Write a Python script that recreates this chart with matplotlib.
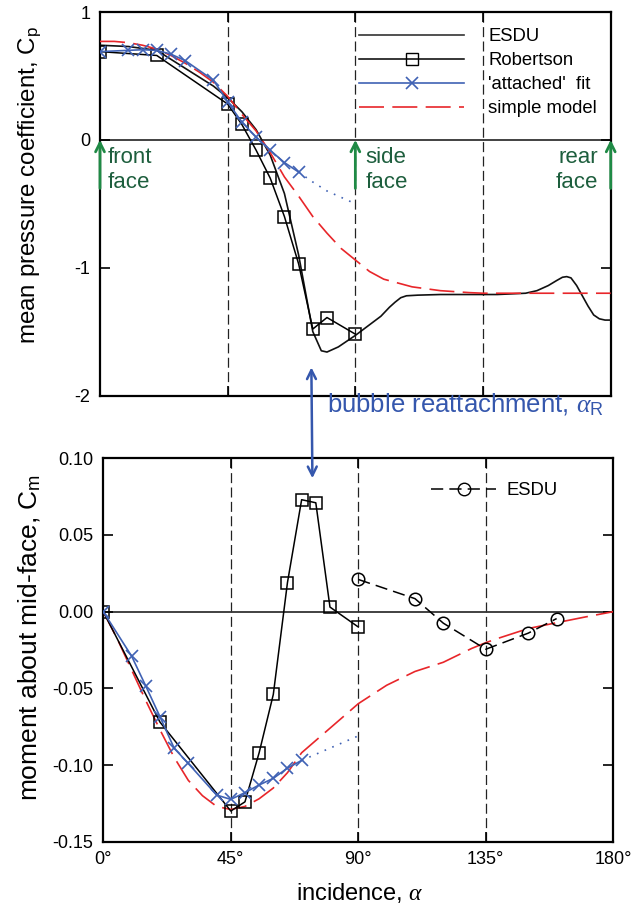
import matplotlib
matplotlib.use("Agg")
import matplotlib.pyplot as plt
from matplotlib.lines import Line2D

plt.rcParams['font.family'] = ['Liberation Sans', 'DejaVu Sans']
plt.rcParams['mathtext.fontset'] = 'custom'
plt.rcParams['mathtext.rm'] = 'Liberation Sans'
plt.rcParams['mathtext.it'] = 'Liberation Serif:italic'

# ---------------- data ----------------
alpha_rob = [0, 20, 45, 50, 55, 60, 65, 70, 75, 80, 90]
cp_rob = [0.69, 0.66, 0.28, 0.12, -0.08, -0.30, -0.60, -0.97, -1.48, -1.39, -1.52]
cm_rob = [0.0, -0.072, -0.130, -0.124, -0.092, -0.054, 0.019, 0.073, 0.071, 0.003, -0.010]

alpha_fit = [0, 10, 15, 20, 25, 30, 40, 45, 50, 55, 60, 65, 70]
cp_fit = [0.69, 0.70, 0.705, 0.70, 0.67, 0.62, 0.466, 0.296, 0.139, 0.022, -0.082, -0.178, -0.252]
cm_fit = [0.0, -0.029, -0.0485, -0.0685, -0.089, -0.099, -0.1196, -0.1224, -0.118, -0.113, -0.1087, -0.102, -0.097]

alpha_ext = [70, 75, 80, 85, 90]
cp_ext = [-0.252, -0.33, -0.40, -0.45, -0.50]
cm_ext = [-0.097, -0.093, -0.089, -0.085, -0.081]

alpha_esdu_cp = [0, 10, 20, 30, 40, 45, 50, 55, 60, 65, 70, 72, 75, 78, 80, 84, 90, 96,
                 99, 102, 104, 106, 108, 112, 120, 140, 150, 154, 158, 161, 163, 164.5,
                 166, 168, 170, 172, 174, 176, 178, 180]
cp_esdu = [0.74, 0.73, 0.70, 0.56, 0.42, 0.33, 0.22, 0.08, -0.12, -0.42, -0.90, -1.14,
           -1.50, -1.65, -1.66, -1.62, -1.53, -1.43, -1.38, -1.31, -1.27, -1.235, -1.22,
           -1.215, -1.21, -1.21, -1.20, -1.18, -1.14, -1.10, -1.075, -1.07, -1.08, -1.14,
           -1.22, -1.30, -1.37, -1.40, -1.41, -1.41]

alpha_esdu_cm = [90, 110, 120, 135, 150, 160]
cm_esdu = [0.021, 0.0085, -0.0075, -0.0245, -0.014, -0.0045]

alpha_model = [0, 5, 10, 15, 20, 25, 30, 35, 40, 45, 50, 55, 60, 65, 70, 75, 80, 85, 90,
               95, 100, 105, 110, 120, 130, 135, 140, 150, 160, 170, 180]
cp_model = [0.77, 0.77, 0.76, 0.74, 0.71, 0.66, 0.60, 0.53, 0.45, 0.34, 0.20, 0.07, -0.10,
            -0.29, -0.44, -0.60, -0.73, -0.85, -0.94, -1.03, -1.09, -1.12, -1.15, -1.18,
            -1.195, -1.20, -1.20, -1.20, -1.20, -1.20, -1.20]
cm_model = [0.0, -0.018, -0.038, -0.058, -0.077, -0.095, -0.110, -0.120, -0.127, -0.129,
            -0.127, -0.122, -0.115, -0.105, -0.092, -0.084, -0.076, -0.068, -0.060, -0.054,
            -0.048, -0.0435, -0.039, -0.033, -0.024, -0.0202, -0.017, -0.011, -0.0072,
            -0.0035, 0.0]

xtick_vals = [0, 45, 90, 135, 180]
xtick_labels = ['0°', '45°', '90°', '135°', '180°']
cp_ticks = [1, 0, -1, -2]
cm_ticks = [0.10, 0.05, 0.00, -0.05, -0.10, -0.15]

# ---------------- style ----------------
BLUE = '#4062b4'
RED = '#e8262a'
GREEN_A = '#1f8a45'
GREEN_T = '#1d5e3d'
ANN_BLUE = '#3557ad'

W, H = 643, 911
fig = plt.figure(figsize=(W / 100, H / 100), dpi=100)
ax1 = fig.add_axes([100 / W, 1 - 395.5 / H, 510.7 / W, 383.5 / H])
ax2 = fig.add_axes([103.3 / W, 1 - 841.7 / H, 510 / W, 383.4 / H])

for ax in (ax1, ax2):
    ax.set_xlim(0, 180)
    for s in ax.spines.values():
        s.set_linewidth(1.6)
    ax.tick_params(direction='in', length=7, width=1.2, top=True, right=True,
                   labelsize=13, pad=7)
    for xv in (45, 90, 135):
        ax.axvline(xv, color='#222222', lw=0.9, dashes=(8, 3.5), zorder=1)
    ax.axhline(0, color='#333333', lw=1.3, zorder=1)
    ax.set_xticks(xtick_vals)

ax1.set_ylim(-2, 1)
ax1.set_yticks(cp_ticks)
ax1.set_yticklabels([str(v) for v in cp_ticks])
ax1.set_xticklabels([])

ax2.set_ylim(-0.15, 0.10)
ax2.set_yticks(cm_ticks)
ax2.set_yticklabels(['%.2f' % v for v in cm_ticks])
ax2.set_xticklabels(xtick_labels)

ms = 9
# ---- top panel ----
ax1.plot(alpha_esdu_cp, cp_esdu, color='#111111', lw=1.2, zorder=3)
ax1.plot(alpha_rob, cp_rob, color='black', lw=1.1, marker='s', ms=ms, mfc='none',
         mec='black', mew=1.1, zorder=4)
ax1.plot(alpha_fit, cp_fit, color=BLUE, lw=1.2, marker='x', ms=ms, mew=1.2, zorder=5)
ax1.plot(alpha_ext, cp_ext, color=BLUE, lw=1.2, ls=(0, (1, 4)), zorder=5)
ax1.plot(alpha_model, cp_model, color=RED, lw=1.2, dashes=(15, 5), zorder=4)

handles = [Line2D([], [], color='#333333', lw=1.2),
           Line2D([], [], color='black', lw=1.1, marker='s', ms=ms, mfc='none', mec='black'),
           Line2D([], [], color=BLUE, lw=1.2, marker='x', ms=ms, mew=1.2),
           Line2D([], [], color=RED, lw=1.2, dashes=(15, 5))]
labels = ['ESDU', 'Robertson', "'attached'  fit", 'simple model']
ax1.legend(handles, labels, loc='upper left', bbox_to_anchor=(0.507, 0.958),
           frameon=False, fontsize=13.3, handlelength=5.7, handletextpad=1.3,
           labelspacing=0.38, borderpad=0, borderaxespad=0)

# green arrows and face labels
for xa in (0, 90, 180):
    ax1.annotate('', xy=(xa, 0), xytext=(xa, -0.38), xycoords='data',
                 arrowprops=dict(arrowstyle='->', color=GREEN_A, lw=2.0,
                                 mutation_scale=16, shrinkA=0, shrinkB=0),
                 annotation_clip=False, zorder=6)
tkw = dict(color=GREEN_T, fontsize=16, va='top', linespacing=1.28)
ax1.text(2.8, -0.055, 'front\nface', ha='left', **tkw)
ax1.text(93.5, -0.055, 'side\nface', ha='left', **tkw)
ax1.text(175.5, -0.055, 'rear\nface', ha='right', **tkw)

fig.text(30 / W, 1 - 185 / H, 'mean pressure coefficient, C$_\\mathrm{p}$', fontsize=17.4,
         rotation=90, ha='center', va='center')

# ---- bottom panel ----
ax2.plot(alpha_rob, cm_rob, color='black', lw=1.1, marker='s', ms=ms, mfc='none',
         mec='black', mew=1.1, zorder=4)
ax2.plot(alpha_fit, cm_fit, color=BLUE, lw=1.2, marker='x', ms=ms, mew=1.2, zorder=5)
ax2.plot(alpha_ext, cm_ext, color=BLUE, lw=1.2, ls=(0, (1, 4)), zorder=5)
ax2.plot(alpha_model, cm_model, color=RED, lw=1.2, dashes=(15, 5), zorder=3)
ax2.plot(alpha_esdu_cm, cm_esdu, color='black', lw=1.1, dashes=(8, 4), marker='o', ms=ms,
         mfc='none', mec='black', mew=1.1, zorder=4)

h2 = [Line2D([], [], color='black', lw=1.1, dashes=(8, 4), marker='o', ms=ms, mfc='none',
             mec='black')]
ax2.legend(h2, ['ESDU'], loc='upper left', bbox_to_anchor=(0.643, 0.937), frameon=False,
           fontsize=13.3, handlelength=3.5, handletextpad=0.6, borderpad=0,
           borderaxespad=0)

fig.text(30 / W, 1 - 637 / H, 'moment about mid-face, C$_\\mathrm{m}$', fontsize=19,
         rotation=90, ha='center', va='center')
fig.text(360 / W, 1 - 893 / H, 'incidence, $\\alpha$', fontsize=17, ha='center',
         va='center')

# bubble reattachment arrow (drawn with the lower axes so it sits on top of both)
ax2.annotate('', xy=(73.8, 0.087), xycoords=ax2.transData,
             xytext=(74.5, -1.78), textcoords=ax1.transData,
             arrowprops=dict(arrowstyle='<->', color=ANN_BLUE, lw=1.8, mutation_scale=16,
                             shrinkA=0, shrinkB=0),
             annotation_clip=False, zorder=10)
fig.text(327 / W, 1 - 405 / H, 'bubble reattachment, $\\alpha_\\mathrm{R}$', color=ANN_BLUE,
         fontsize=18.5, ha='left', va='center')

fig.savefig('out.png', dpi=100)
